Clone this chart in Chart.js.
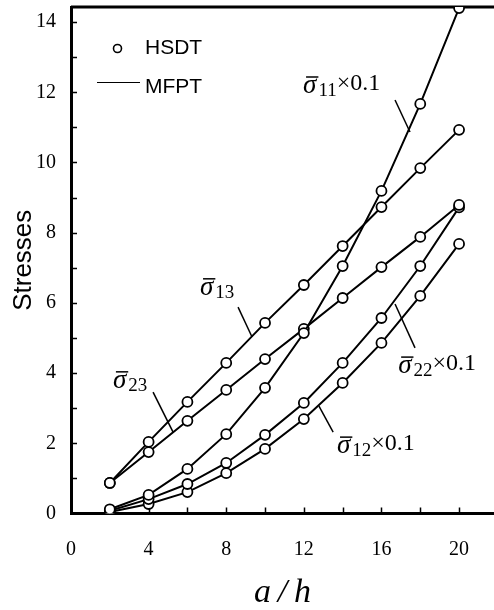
<!DOCTYPE html>
<html>
<head>
<meta charset="utf-8">
<script src="https://cdn.jsdelivr.net/npm/chart.js@4/dist/chart.umd.min.js"></script>
<style>
  body { margin: 0; background: #fff; }
</style>
</head>
<body>
<canvas id="stressChart" width="494" height="610"></canvas>
<script>
// a/h values (HSDT points)
const aOverH = [2, 4, 6, 8, 10, 12, 14, 16, 18, 20];
const sigma11 = [0.12, 0.53, 1.27, 2.26, 3.58, 5.14, 7.05, 9.19, 11.67, 14.4]; // x0.1
const sigma13 = [0.87, 2.04, 3.18, 4.29, 5.43, 6.51, 7.62, 8.73, 9.84, 10.93];
const sigma23 = [0.87, 1.75, 2.64, 3.52, 4.40, 5.26, 6.14, 7.02, 7.88, 8.79];
const sigma22 = [0.08, 0.41, 0.84, 1.44, 2.24, 3.15, 4.29, 5.57, 7.05, 8.72]; // x0.1
const sigma12 = [0.04, 0.27, 0.61, 1.15, 1.84, 2.69, 3.72, 4.86, 6.20, 7.68]; // x0.1
const xTicks = [0, 4, 8, 12, 16, 20];
const yTicks = [0, 2, 4, 6, 8, 10, 12, 14];

const serif = '"Liberation Serif", "Times New Roman", serif';
const sans = '"Liberation Sans", Arial, sans-serif';

// where the curve names sit, in a/h and stress units
const curveLabels = [
  { sub: "11", suffix: "\u00d70.1", at: [11.96, 11.98], from: [16.7, 11.78], to: [17.47, 10.87] },
  { sub: "13", suffix: "", at: [6.65, 6.23], from: [8.61, 5.88], to: [9.33, 5.03] },
  { sub: "23", suffix: "", at: [2.16, 3.58], from: [4.23, 3.46], to: [5.26, 2.32] },
  { sub: "22", suffix: "\u00d70.1", at: [16.86, 4.0], from: [17.73, 4.72], to: [16.7, 5.97] },
  { sub: "12", suffix: "\u00d70.1", at: [13.71, 1.72], from: [13.51, 2.32], to: [12.78, 3.06] }
];

function series(label, values) {
  return {
    label: label,
    data: aOverH.map((x, i) => ({ x: x, y: values[i] })),
    borderColor: "#000",
    borderWidth: 2,
    backgroundColor: "#fff",
    pointRadius: 5,
    pointBorderWidth: 1.8,
    pointBackgroundColor: "#fff",
    pointBorderColor: "#000",
    tension: 0
  };
}

function drawSigma(ctx, x, y, sub, suffix) {
  ctx.fillStyle = "#000";
  ctx.strokeStyle = "#000";
  ctx.textBaseline = "alphabetic";
  ctx.textAlign = "left";
  ctx.font = "italic 27px " + serif;
  ctx.fillText("\u03c3", x, y);
  const w = ctx.measureText("\u03c3").width;
  ctx.lineWidth = 1.5;
  ctx.beginPath();
  ctx.moveTo(x + 3, y - 16);
  ctx.lineTo(x + w + 2, y - 16);
  ctx.stroke();
  ctx.font = "19px " + serif;
  ctx.fillText(sub, x + w + 2, y + 3);
  if (suffix) {
    const sw = ctx.measureText(sub).width;
    ctx.font = "24px " + serif;
    ctx.fillText(suffix, x + w + 2 + sw, y - 3);
  }
}

const framePlugin = {
  id: "frame",
  beforeDatasetsDraw(chart) {
    const ctx = chart.ctx;
    const area = chart.chartArea;
    const xs = chart.scales.x, ys = chart.scales.y;
    ctx.save();
    ctx.strokeStyle = "#000";
    ctx.lineWidth = 1.5;
    ctx.beginPath();
    for (let v = 2; v <= 20; v += 2) {
      const px = Math.round(xs.getPixelForValue(v)) + 0.5;
      ctx.moveTo(px, area.bottom);
      ctx.lineTo(px, area.bottom - 6);
    }
    for (let v = 1; v <= 14; v += 1) {
      const py = Math.round(ys.getPixelForValue(v)) + 0.5;
      ctx.moveTo(area.left, py);
      ctx.lineTo(area.left + 6, py);
    }
    ctx.stroke();
    // top frame line
    ctx.lineWidth = 3;
    ctx.beginPath();
    ctx.moveTo(area.left, area.top);
    ctx.lineTo(area.right, area.top);
    ctx.stroke();
    ctx.restore();
  },
  afterDraw(chart) {
    const ctx = chart.ctx;
    const xs = chart.scales.x, ys = chart.scales.y;
    ctx.save();
    // legend
    ctx.strokeStyle = "#000";
    ctx.fillStyle = "#000";
    ctx.lineWidth = 1.6;
    ctx.beginPath();
    ctx.arc(117.5, 48.5, 4, 0, Math.PI * 2);
    ctx.stroke();
    ctx.lineWidth = 1;
    ctx.beginPath();
    ctx.moveTo(97, 82.5);
    ctx.lineTo(140, 82.5);
    ctx.stroke();
    ctx.font = "21px " + sans;
    ctx.textAlign = "left";
    ctx.textBaseline = "alphabetic";
    ctx.fillText("HSDT", 145, 54);
    ctx.fillText("MFPT", 145, 93);
    // curve labels with leader lines
    curveLabels.forEach(l => {
      ctx.lineWidth = 1.5;
      ctx.beginPath();
      ctx.moveTo(xs.getPixelForValue(l.from[0]), ys.getPixelForValue(l.from[1]));
      ctx.lineTo(xs.getPixelForValue(l.to[0]), ys.getPixelForValue(l.to[1]));
      ctx.stroke();
      drawSigma(ctx, xs.getPixelForValue(l.at[0]), ys.getPixelForValue(l.at[1]), l.sub, l.suffix);
    });
    ctx.restore();
  }
};

new Chart("stressChart", {
  type: "line",
  data: {
    datasets: [
      series("sigma11 x0.1", sigma11),
      series("sigma13", sigma13),
      series("sigma23", sigma23),
      series("sigma22 x0.1", sigma22),
      series("sigma12 x0.1", sigma12)
    ]
  },
  options: {
    responsive: false,
    devicePixelRatio: 1,
    animation: false,
    layout: { autoPadding: false, padding: { top: 7, left: 0, right: 0, bottom: 0 } },
    plugins: {
      legend: { display: false },
      tooltip: { enabled: false }
    },
    scales: {
      x: {
        type: "linear",
        min: 0,
        max: 21.8,
        afterBuildTicks: s => { s.ticks = xTicks.map(v => ({ value: v })); },
        afterFit: s => { s.height = 96.5; s.paddingLeft = 0; s.paddingRight = 0; },
        ticks: {
          color: "#000",
          padding: 24,
          font: { family: serif, size: 20 },
          maxRotation: 0
        },
        grid: { drawOnChartArea: false, drawTicks: false },
        border: { color: "#000", width: 3 },
        title: {
          display: true,
          text: "a\u2009/\u2009h",
          color: "#000",
          font: { family: serif, size: 34, style: "italic", lineHeight: 1.0 },
          padding: { top: 0, bottom: 0 }
        }
      },
      y: {
        min: 0,
        max: 14.43,
        afterBuildTicks: s => { s.ticks = yTicks.map(v => ({ value: v })); },
        afterFit: s => { s.width = 71; s.paddingTop = 0; s.paddingBottom = 0; },
        ticks: {
          color: "#000",
          padding: 15,
          font: { family: serif, size: 20 }
        },
        grid: { drawOnChartArea: false, drawTicks: false },
        border: { color: "#000", width: 3 },
        title: {
          display: true,
          text: "Stresses",
          color: "#000",
          font: { family: sans, size: 26 },
          padding: { top: 8, bottom: 0 }
        }
      }
    }
  },
  plugins: [framePlugin]
});
</script>
</body>
</html>
